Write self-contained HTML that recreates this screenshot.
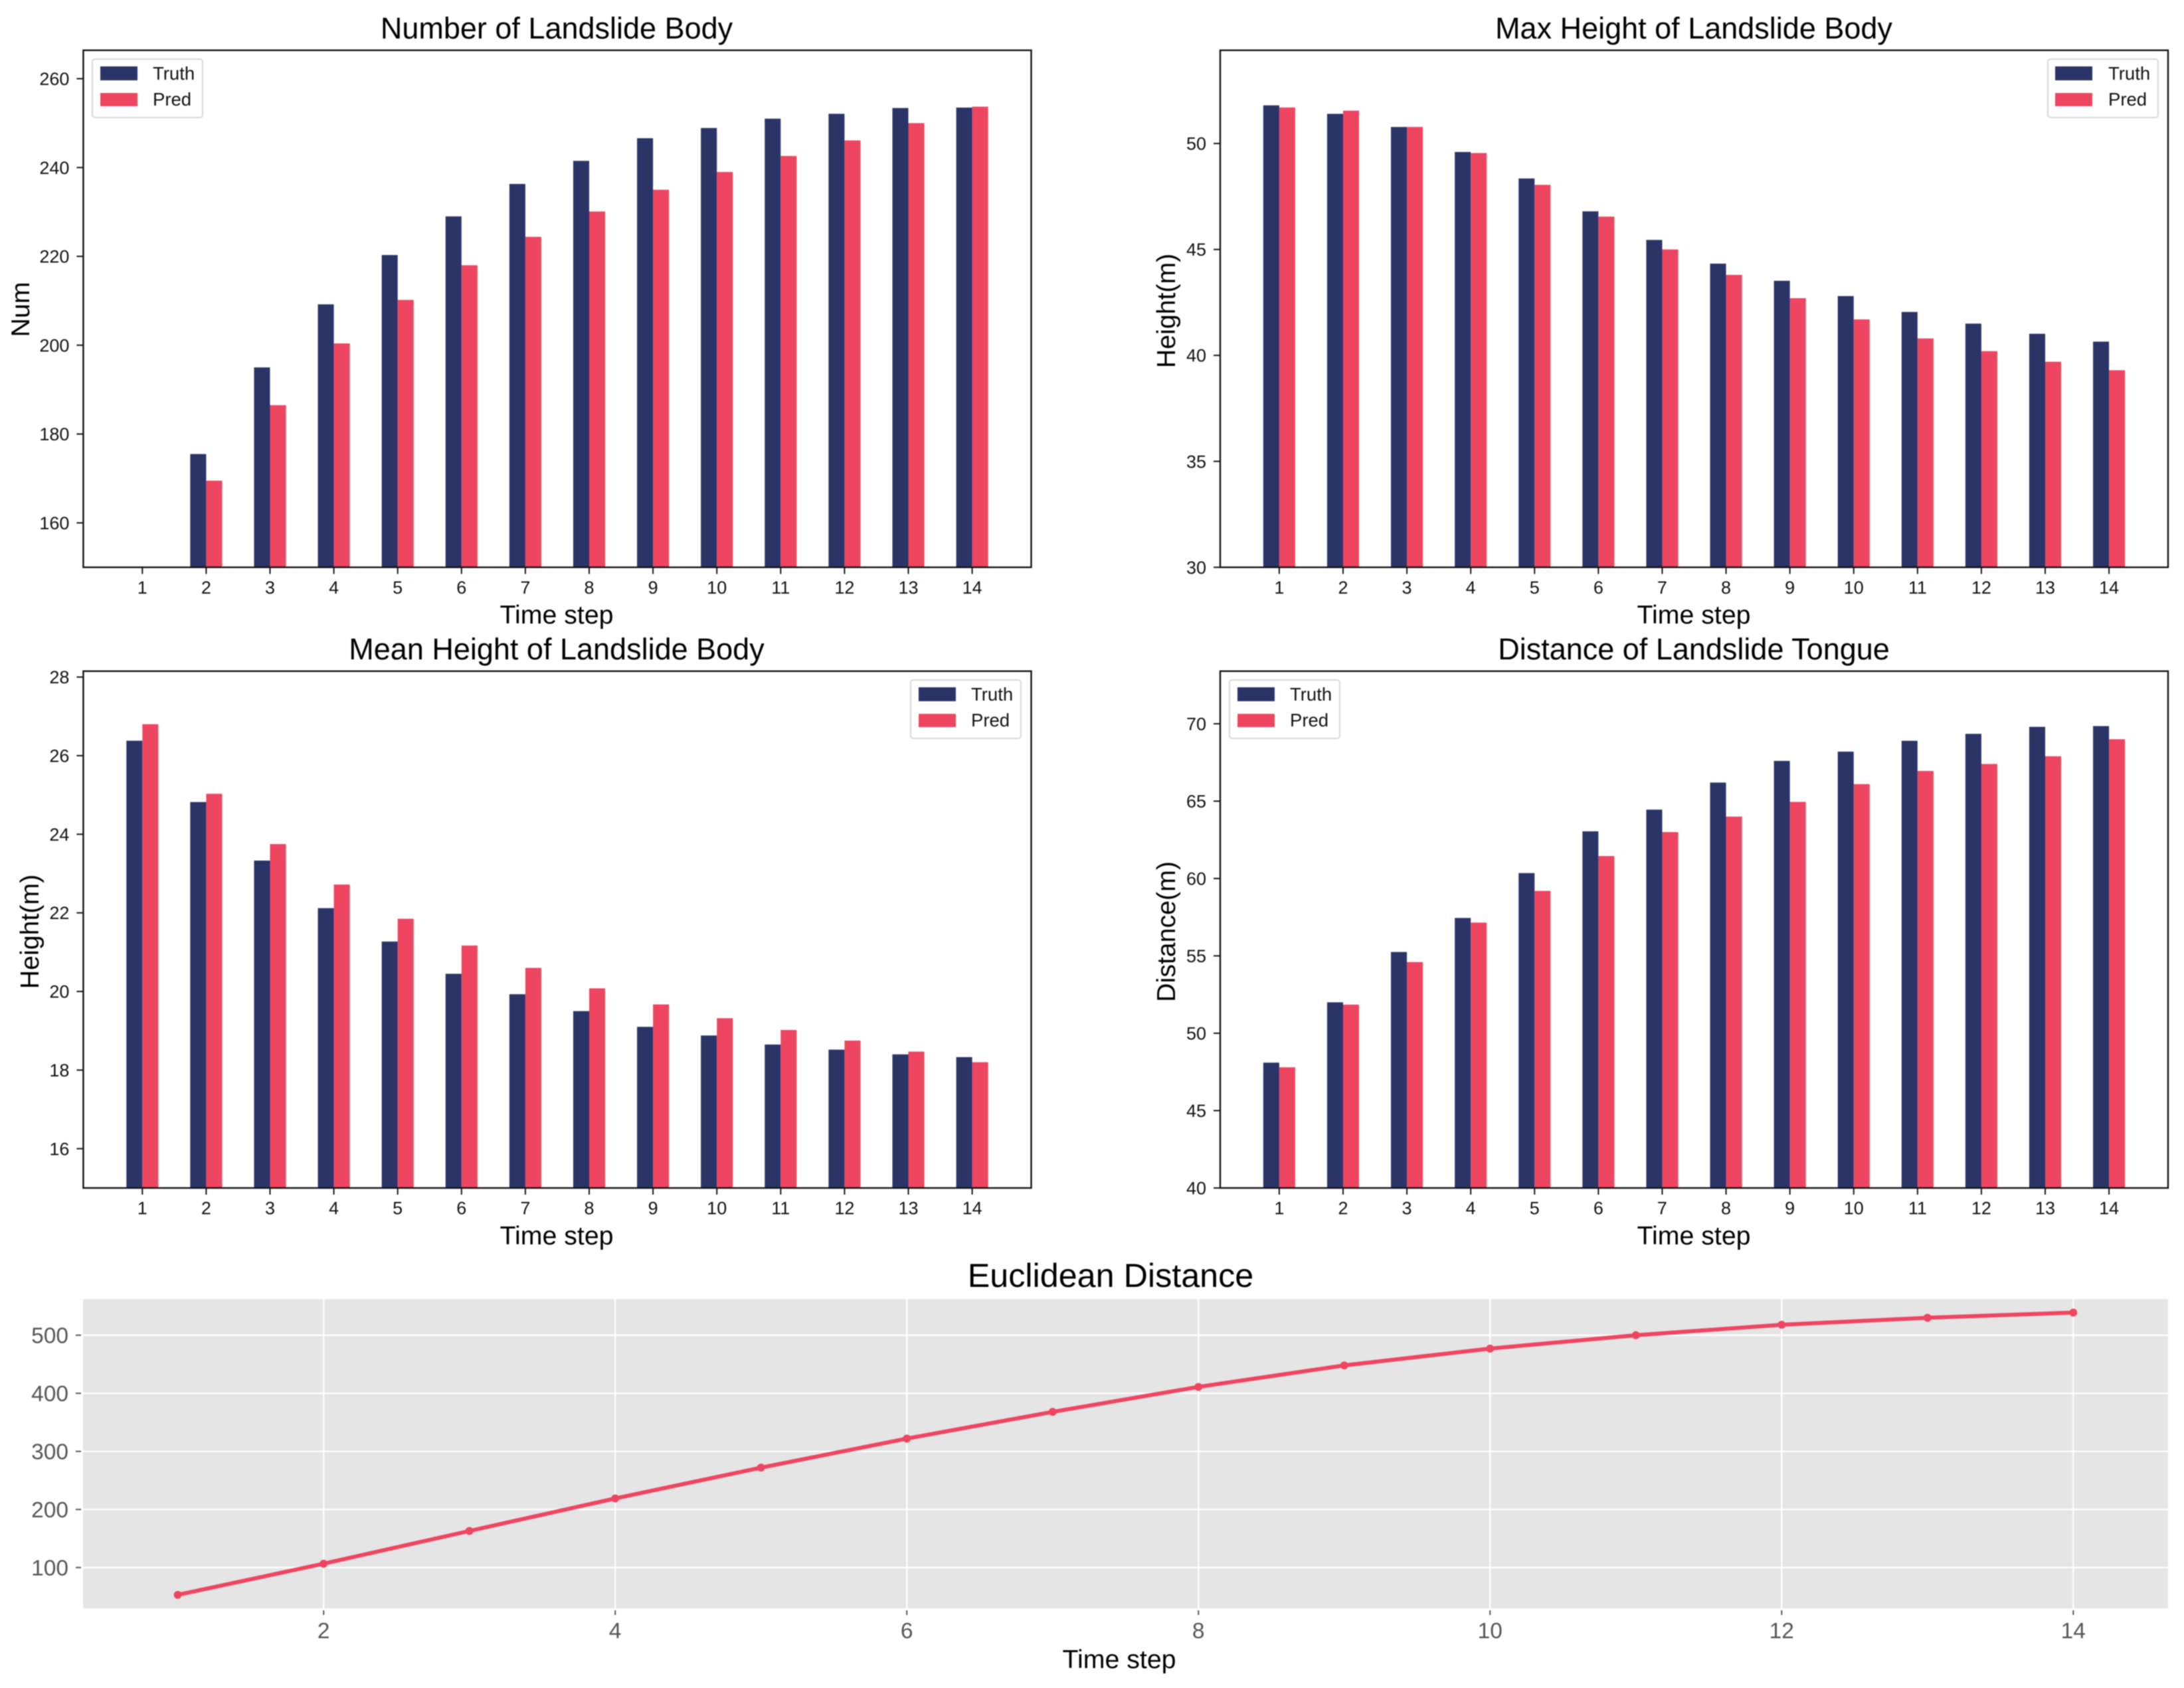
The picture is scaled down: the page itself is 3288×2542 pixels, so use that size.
<!DOCTYPE html>
<html lang="en">
<head>
<meta charset="utf-8">
<title>Landslide prediction charts</title>
<style>
html,body{margin:0;padding:0;background:#fff;width:3288px;height:2542px;overflow:hidden}
svg{display:block;filter:blur(0.7px);font-family:"Liberation Sans",Arial,sans-serif}
.title{font-size:45px;fill:#000;text-anchor:middle}
.axis-label{font-size:39.3px;fill:#000;text-anchor:middle}
.tick{font-size:27px;fill:#111}
.legend-text{font-size:27.5px;fill:#111}
.tick-gray{font-size:33.5px;fill:#555}
</style>
</head>
<body>
<svg id="figure" xmlns="http://www.w3.org/2000/svg" width="3288" height="2542" viewBox="0 0 3288 2542">
  <rect x="0" y="0" width="3288" height="2542" fill="#ffffff"/>

  <text class="title" x="838" y="58">Number of Landslide Body</text>
  <text class="title" x="2550" y="58">Max Height of Landslide Body</text>
  <text class="title" x="838" y="993">Mean Height of Landslide Body</text>
  <text class="title" x="2550" y="993">Distance of Landslide Tongue</text>
  <text class="title" x="1672" y="1938" style="font-size:50.3px">Euclidean Distance</text>

  <text class="axis-label" x="838" y="939">Time step</text>
  <text class="axis-label" x="2550" y="939">Time step</text>
  <text class="axis-label" x="838" y="1874">Time step</text>
  <text class="axis-label" x="2550" y="1874">Time step</text>
  <text class="axis-label" x="1685" y="2512">Time step</text>

  <text class="axis-label" transform="translate(44 466) rotate(-90)">Num</text>
  <text class="axis-label" transform="translate(1769 468) rotate(-90)">Height(m)</text>
  <text class="axis-label" transform="translate(58 1403) rotate(-90)">Height(m)</text>
  <text class="axis-label" transform="translate(1769 1403) rotate(-90)">Distance(m)</text>

  <g id="plots"></g>

  <g>
    <rect x="139" y="89" width="166" height="88" rx="4" fill="#fff" stroke="#d8d8d8" stroke-width="2"/>
    <rect x="151" y="100" width="56" height="21" fill="#2b3467"/>
    <rect x="151" y="140" width="56" height="20" fill="#ee4560"/>
    <text class="legend-text" x="230" y="120">Truth</text>
    <text class="legend-text" x="230" y="159">Pred</text>
  </g>
  <g>
    <rect x="3083" y="89" width="166" height="88" rx="4" fill="#fff" stroke="#d8d8d8" stroke-width="2"/>
    <rect x="3094" y="100" width="56" height="21" fill="#2b3467"/>
    <rect x="3094" y="140" width="56" height="20" fill="#ee4560"/>
    <text class="legend-text" x="3174" y="120">Truth</text>
    <text class="legend-text" x="3174" y="159">Pred</text>
  </g>
  <g>
    <rect x="1371" y="1024" width="166" height="88" rx="4" fill="#fff" stroke="#d8d8d8" stroke-width="2"/>
    <rect x="1383" y="1035" width="56" height="21" fill="#2b3467"/>
    <rect x="1383" y="1075" width="56" height="20" fill="#ee4560"/>
    <text class="legend-text" x="1462" y="1055">Truth</text>
    <text class="legend-text" x="1462" y="1094">Pred</text>
  </g>
  <g>
    <rect x="1851" y="1024" width="166" height="88" rx="4" fill="#fff" stroke="#d8d8d8" stroke-width="2"/>
    <rect x="1863" y="1035" width="56" height="21" fill="#2b3467"/>
    <rect x="1863" y="1075" width="56" height="20" fill="#ee4560"/>
    <text class="legend-text" x="1942" y="1055">Truth</text>
    <text class="legend-text" x="1942" y="1094">Pred</text>
  </g>
</svg>

<script>
var timeSteps = [1,2,3,4,5,6,7,8,9,10,11,12,13,14];

var numberTruth = [150,175.5,195,209.2,220.3,229,236.3,241.5,246.6,248.9,251,252.1,253.4,253.5];
var numberPred = [150,169.5,186.5,200.4,210.2,218,224.4,230.1,235,239,242.6,246.1,250,253.7];
var numberTicks = [160,180,200,220,240,260];

var maxHeightTruth = [51.8,51.4,50.78,49.6,48.35,46.8,45.45,44.33,43.52,42.8,42.05,41.5,41.02,40.65];
var maxHeightPred = [51.7,51.55,50.78,49.55,48.05,46.55,45,43.8,42.7,41.7,40.8,40.2,39.7,39.3];
var maxHeightTicks = [30,35,40,45,50];

var meanHeightTruth = [26.38,24.82,23.33,22.12,21.27,20.45,19.93,19.5,19.1,18.88,18.65,18.52,18.4,18.33];
var meanHeightPred = [26.8,25.03,23.75,22.72,21.85,21.17,20.6,20.08,19.67,19.32,19.02,18.75,18.47,18.2];
var meanHeightTicks = [16,18,20,22,24,26,28];

var distanceTruth = [48.1,52,55.25,57.45,60.35,63.05,64.45,66.2,67.6,68.2,68.9,69.35,69.8,69.85];
var distancePred = [47.8,51.85,54.6,57.15,59.2,61.45,63,64,64.95,66.1,66.95,67.4,67.9,69];
var distanceTicks = [40,45,50,55,60,65,70];

var euclideanValues = [53,106.6,163,219,272,322,368,411,448,477,500,518,530,539];
var euclideanXTicks = [2,4,6,8,10,12,14];
var euclideanYTicks = [100,200,300,400,500];

var SVGNS = 'http://www.w3.org/2000/svg';
var plots = document.getElementById('plots');
var NAVY = '#2b3467', RED = '#ee4560';

function make(tag, parent, attrs, text) {
  var node = document.createElementNS(SVGNS, tag);
  for (var key in attrs) node.setAttribute(key, attrs[key]);
  if (text !== undefined) node.textContent = text;
  parent.appendChild(node);
  return node;
}
function linear(d0, d1, r0, r1) {
  return function (v) { return r0 + (v - d0) * (r1 - r0) / (d1 - d0); };
}

function barChart(name, box, yMin, yMax, truth, pred, yTicks) {
  var sx = linear(0.075, 14.925, box.l, box.r);
  var sy = linear(yMin, yMax, box.b, box.t);
  var g = make('g', plots, {});
  
  

  timeSteps.forEach(function (step, i) {
    var x0 = sx(step - 0.25), x1 = sx(step), x2 = sx(step + 0.25);
    var yT = Math.min(sy(truth[i]), box.b), yP = Math.min(sy(pred[i]), box.b);
    var barT = make('rect', g, {x: x0, y: yT, width: x1 - x0, height: box.b - yT, fill: NAVY});
    
    
    var barP = make('rect', g, {x: x1, y: yP, width: x2 - x1, height: box.b - yP, fill: RED});
    
    

    var tick = make('line', g, {x1: x1, x2: x1, y1: box.b, y2: box.b + 10, stroke: '#111', 'stroke-width': 2});
    
    
    var label = make('text', g, {x: x1, y: box.b + 39.5, 'text-anchor': 'middle', 'class': 'tick'}, String(step));
    
    
  });

  yTicks.forEach(function (value) {
    var y = sy(value);
    var tick = make('line', g, {x1: box.l - 10, x2: box.l, y1: y, y2: y, stroke: '#111', 'stroke-width': 2});
    
    
    var label = make('text', g, {x: box.l - 21, y: y + 9.5, 'text-anchor': 'end', 'class': 'tick'}, String(value));
    
    
  });

  var frame = make('rect', g, {x: box.l, y: box.t, width: box.r - box.l, height: box.b - box.t, fill: 'none', stroke: '#111', 'stroke-width': 2.4});
  
  
}

function lineChart(box, xMin, xMax, yMin, yMax, values, xTicks, yTicks) {
  var sx = linear(xMin, xMax, box.l, box.r);
  var sy = linear(yMin, yMax, box.b, box.t);
  var g = make('g', plots, {});
  
  

  var bg = make('rect', g, {x: box.l, y: box.t, width: box.r - box.l, height: box.b - box.t, fill: '#e5e5e5'});
  
  

  xTicks.forEach(function (value) {
    var x = sx(value);
    var grid = make('line', g, {x1: x, x2: x, y1: box.t, y2: box.b, stroke: '#fff', 'stroke-width': 2.2});
    
    
    var tick = make('line', g, {x1: x, x2: x, y1: box.b + 3, y2: box.b + 10, stroke: '#555', 'stroke-width': 2});
    
    
    var label = make('text', g, {x: x, y: box.b + 45, 'text-anchor': 'middle', 'class': 'tick-gray'}, String(value));
    
    
  });

  yTicks.forEach(function (value) {
    var y = sy(value);
    var grid = make('line', g, {x1: box.l, x2: box.r, y1: y, y2: y, stroke: '#fff', 'stroke-width': 2.2});
    
    
    var tick = make('line', g, {x1: box.l - 11, x2: box.l - 3, y1: y, y2: y, stroke: '#555', 'stroke-width': 2});
    
    
    var label = make('text', g, {x: box.l - 22, y: y + 12, 'text-anchor': 'end', 'class': 'tick-gray'}, String(value));
    
    
  });

  var points = values.map(function (v, i) { return sx(timeSteps[i]) + ',' + sy(v); }).join(' ');
  var line = make('polyline', g, {points: points, fill: 'none', stroke: RED, 'stroke-width': 6, 'stroke-linejoin': 'round'});
  
  

  values.forEach(function (v, i) {
    var dot = make('circle', g, {cx: sx(timeSteps[i]), cy: sy(v), r: 6, fill: RED});
    
    
  });
}

barChart('number', {l: 125.4, r: 1552.5, t: 75.7, b: 854.3}, 150, 266.4, numberTruth, numberPred, numberTicks);
barChart('max-height', {l: 1837, r: 3264, t: 75.7, b: 854.3}, 30, 54.4, maxHeightTruth, maxHeightPred, maxHeightTicks);
barChart('mean-height', {l: 125.4, r: 1552.5, t: 1010.7, b: 1789}, 15, 28.15, meanHeightTruth, meanHeightPred, meanHeightTicks);
barChart('distance', {l: 1837, r: 3264, t: 1010.7, b: 1789}, 40, 73.4, distanceTruth, distancePred, distanceTicks);
lineChart({l: 125, r: 3264, t: 1956.5, b: 2422}, 0.35, 14.65, 29.8, 562, euclideanValues, euclideanXTicks, euclideanYTicks);
</script>
</body>
</html>
